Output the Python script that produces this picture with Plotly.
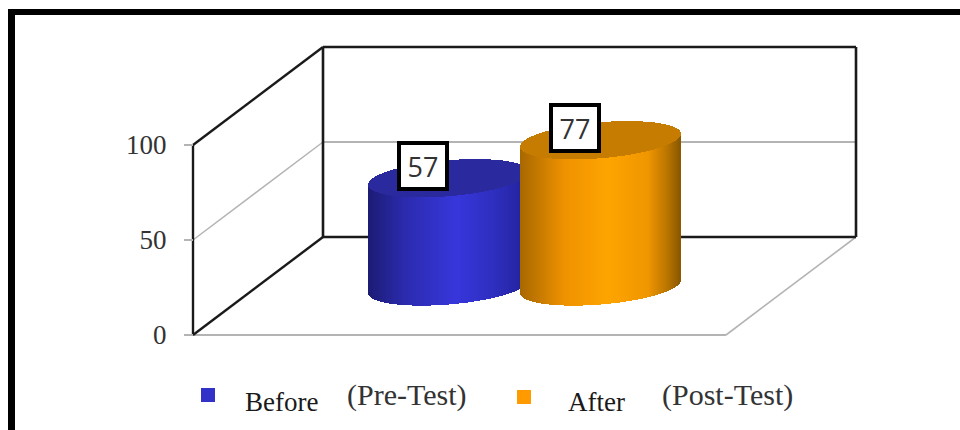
import numpy as np
import plotly.graph_objects as go

# ---- data ----
categories = ["Before", "After"]
category_notes = ["(Pre-Test)", "(Post-Test)"]
values = [57, 77]
tick_values = [0, 50, 100]
top_gridline = 100
mid_gridline = 50

# ---- styles ----
W, H = 960, 430
PX_PER_UNIT = 1.9
Y0_PX = 335
FRONT_L, FRONT_R = 193, 726
DX, DY = 130, 98
cyl_cx = [449, 601]
A, B, SHEAR = 80, 18, -6.5
CYL_BOTTOM_CY = 286.5
body_stops = [
    [(-1, "#1c1c74"), (-0.55, "#2b2bae"), (0.1, "#3737dc"), (0.6, "#2e2ebe"), (1, "#22229a")],
    [(-1, "#a86800"), (-0.45, "#ef9200"), (0.1, "#ffa500"), (0.6, "#f09600"), (0.85, "#b87400"), (1, "#8a5800")],
]
top_color = ["#2a2a9e", "#c67c00"]
legend_color = ["#3232c8", "#ff9a00"]
FRAME = "#1a1a1a"
GRID = "#b4b4b4"
SERIF = "Liberation Serif"


def v_of_py(py):
    return (Y0_PX - py) / PX_PER_UNIT


def hex_rgb(h):
    return [int(h[i:i + 2], 16) for i in (1, 3, 5)]


def grad(u, stops):
    xs = [s[0] for s in stops]
    rgb = np.array([hex_rgb(s[1]) for s in stops], float)
    return "rgb(%d,%d,%d)" % tuple(np.interp(u, xs, rgb[:, i]) for i in range(3))


fig = go.Figure()

for i, val in enumerate(values):
    xs = np.arange(cyl_cx[i] - A, cyl_cx[i] + A) + 0.5
    u = (xs - cyl_cx[i]) / A
    arc = B * np.sqrt(1 - u ** 2)
    lower_py = CYL_BOTTOM_CY + SHEAR * u + arc
    upper_py = CYL_BOTTOM_CY + SHEAR * u - arc
    base = v_of_py(lower_py)
    fig.add_bar(x=xs, y=np.full_like(xs, val, dtype=float), base=base, width=1.3,
                marker=dict(color=[grad(t, body_stops[i]) for t in u], line=dict(width=0)),
                showlegend=False, hoverinfo="skip")
    top_base = base + val
    top_h = v_of_py(upper_py) - base
    fig.add_bar(x=xs, y=top_h, base=top_base, width=1.3,
                marker=dict(color=top_color[i], line=dict(width=0)),
                showlegend=False, hoverinfo="skip")


def seg(x0, v0, x1, v1, color, w):
    return dict(type="line", layer="below", xref="x", yref="y", x0=x0, y0=v0, x1=x1, y1=v1,
                line=dict(color=color, width=w))


BL, BR = FRONT_L + DX, FRONT_R + DX
dv = DY / PX_PER_UNIT
shapes = [
    seg(FRONT_L, mid_gridline, BL, mid_gridline + dv, GRID, 1.5),
    seg(BL, mid_gridline + dv, BR, mid_gridline + dv, GRID, 2),
    seg(FRONT_L, 0, FRONT_R, 0, GRID, 2),
    seg(FRONT_R, 0, BR, dv, GRID, 1.6),
    seg(BL, top_gridline + dv, BR, top_gridline + dv, FRAME, 2.6),
    seg(BL, dv, BL, top_gridline + dv, FRAME, 2.6),
    seg(BR, dv, BR, top_gridline + dv, FRAME, 2.6),
    seg(BL, dv, BR, dv, FRAME, 2.6),
    seg(FRONT_L, top_gridline, BL, top_gridline + dv, FRAME, 2.4),
    seg(FRONT_L, 0, FRONT_L, top_gridline, FRAME, 2.4),
    seg(FRONT_L, 0, BL, dv, FRAME, 2.4),
    # outer picture border
    dict(type="rect", layer="above", xref="paper", yref="paper", x0=8 / W, x1=15 / W, y0=0, y1=1 - 9 / H,
         fillcolor="black", line=dict(width=0)),
    dict(type="rect", layer="above", xref="paper", yref="paper", x0=8 / W, x1=1, y0=1 - 15 / H, y1=1 - 9 / H,
         fillcolor="black", line=dict(width=0)),
]

annotations = []
for i, val in enumerate(values):
    annotations.append(dict(
        x=cyl_cx[i] - 26, y=v_of_py(CYL_BOTTOM_CY - 12.5) + val, xref="x", yref="y",
        text=str(val), showarrow=False, font=dict(family="Open Sans", size=27, color="#333333"),
        bgcolor="white", bordercolor="black", borderwidth=4, borderpad=0,
        width=44, height=42, align="center", valign="middle"))

leg_square_px = [208, 524]
leg_name_px = [281, 596]
leg_note_px = [406.5, 727]
for i in range(2):
    annotations.append(dict(x=leg_name_px[i], y=v_of_py(402), xref="x", yref="y", text=categories[i],
                            showarrow=False, font=dict(family=SERIF, size=27, color="#1a1a1a")))
    annotations.append(dict(x=leg_note_px[i], y=v_of_py(395), xref="x", yref="y", text=category_notes[i],
                            showarrow=False, font=dict(family=SERIF, size=30, color="#333333")))

fig.add_scatter(x=leg_square_px, y=[v_of_py(395), v_of_py(397)], mode="markers",
                marker=dict(symbol="square", size=14, color=legend_color), showlegend=False, hoverinfo="skip")

fig.update_layout(
    width=W, height=H, margin=dict(l=0, r=0, t=0, b=0, pad=0),
    paper_bgcolor="white", plot_bgcolor="white", barmode="overlay", bargap=0,
    shapes=shapes, annotations=annotations,
    xaxis=dict(range=[0, W], visible=False, fixedrange=True),
    yaxis=dict(range=[v_of_py(H), v_of_py(0)], anchor="free", position=FRONT_L / W,
               tickvals=tick_values, ticks="outside", ticklen=9, tickcolor=GRID, tickwidth=2,
               showgrid=False, zeroline=False, showline=False, ticklabelstandoff=12,
               tickfont=dict(family=SERIF, size=27, color="#333333"), fixedrange=True),
)

fig.write_html("out.html", config=dict(displayModeBar=False),
               post_script="document.body.style.margin='0';document.body.style.overflow='hidden';")
